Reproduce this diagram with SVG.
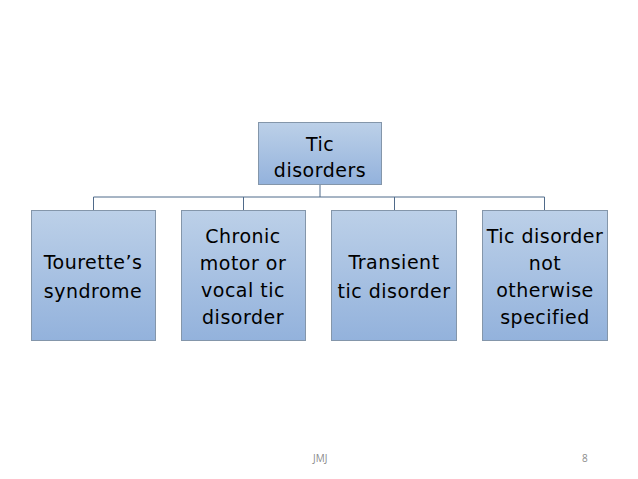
<svg xmlns="http://www.w3.org/2000/svg" width="638" height="479" viewBox="0 0 638 479">
<style>
.box{fill:url(#g);stroke:#8496aa;stroke-width:1}
.t{font-family:"DejaVu Sans",sans-serif;font-size:19px;letter-spacing:0.5px;fill:#000;text-anchor:middle}
.c{stroke:#4f6a8a;stroke-width:1;fill:none}
.f{font-family:"Open Sans","Liberation Sans",sans-serif;font-size:10px;fill:#8c8c8c}
</style>
<defs>
<linearGradient id="g" x1="0" y1="0" x2="0" y2="1">
<stop offset="0" stop-color="#bcd0e8"/>
<stop offset="1" stop-color="#93b2dc"/>
</linearGradient>
</defs>
<rect width="638" height="479" fill="#fff"/>
<g id="connectors">
<path class="c" d="M320 184V197M93.5 197H544.5M93.5 197V210M243.5 197V210M394.5 197V210M544.5 197V210"/>
</g>
<g id="n0"><rect class="box" x="258.5" y="122.5" width="123" height="62"/>
<text class="t" x="320" y="151">Tic</text><text class="t" x="320" y="177">disorders</text></g>
<g id="n1"><rect class="box" x="31.5" y="210.5" width="124" height="130"/>
<text class="t" x="93" y="269">Tourette’s</text><text class="t" x="93" y="298">syndrome</text></g>
<g id="n2"><rect class="box" x="181.5" y="210.5" width="124" height="130"/>
<text class="t" x="243" y="243">Chronic</text><text class="t" x="243" y="270">motor or</text><text class="t" x="243" y="297">vocal tic</text><text class="t" x="243" y="324">disorder</text></g>
<g id="n3"><rect class="box" x="331.5" y="210.5" width="125" height="130"/>
<text class="t" x="394" y="269">Transient</text><text class="t" x="394" y="298">tic disorder</text></g>
<g id="n4"><rect class="box" x="482.5" y="210.5" width="125" height="130"/>
<text class="t" x="545" y="243">Tic disorder</text><text class="t" x="545" y="270">not</text><text class="t" x="545" y="297">otherwise</text><text class="t" x="545" y="324">specified</text></g>
<text class="f" x="313" y="462">JMJ</text>
<text class="f" x="582" y="462">8</text>
</svg>
